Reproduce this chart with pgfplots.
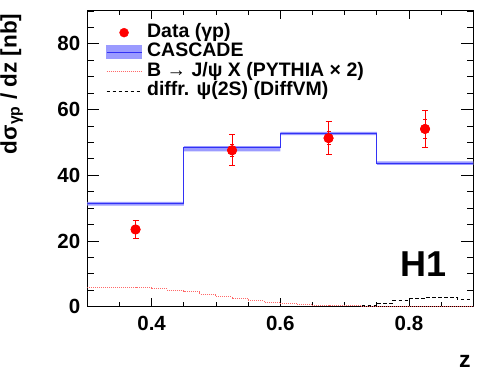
\documentclass[border=0pt]{standalone}
\usepackage{fontspec}
\setmainfont{Liberation Sans}
\usepackage{pgfplots}
\pgfplotsset{compat=1.18}
\definecolor{cline}{RGB}{50,50,245}
\definecolor{cband}{RGB}{155,155,255}
\definecolor{pyred}{RGB}{255,105,105}
\begin{document}
\begin{tikzpicture}
\useasboundingbox (-87.3pt,-64.3pt) rectangle (397.7pt,306.7pt);
\begin{axis}[
  at={(0pt,0pt)}, anchor=south west,
  scale only axis, width=386pt, height=295.7pt,
  xmin=0.3, xmax=0.9, ymin=0, ymax=90,
  xtick={0.4,0.6,0.8}, ytick={0,20,40,60,80},
  minor xtick={0.3,0.35,0.4,0.45,0.5,0.55,0.6,0.65,0.7,0.75,0.8,0.85,0.9},
  minor ytick={0,5,...,90},
  xticklabels={0.4,0.6,0.8},
  axis line style={line width=1pt},
  tick style={black, line width=0.9pt},
  major tick length=12pt, minor tick length=6.5pt,
  xtick style={/pgfplots/major tick length=8.5pt, /pgfplots/minor tick length=4.5pt},
  /pgf/number format/assume math mode=true,
  ticklabel style={font=\fontsize{20.5}{20.5}\selectfont\bfseries},
  xticklabel style={yshift=-6pt},
  yticklabel style={xshift=-3.5pt},
  xlabel={z},
  xlabel style={at={(axis description cs:0.978,-0.185)}, anchor=center, font=\fontsize{23}{23}\selectfont\bfseries},
  ylabel={dσ\textsubscript{γp} / dz [nb]},
  ylabel style={at={(axis description cs:-0.196,1.003)}, anchor=east, font=\fontsize{22.5}{22.5}\selectfont\bfseries},
  legend style={at={(axis description cs:0.048,0.957)}, anchor=north west, draw=none, fill=none,
    font=\fontsize{19.5}{19.5}\selectfont\bfseries, row sep=2pt, column sep=5pt, inner sep=0pt,
    nodes={inner sep=0pt, text height=13.5pt, text depth=4pt}},
  legend cell align=left,
]
% CASCADE uncertainty band
\addplot[fill=cband, draw=none, forget plot] coordinates {
  (0.3,31.9) (0.45,31.9) (0.45,48.9) (0.6,48.9) (0.6,53.2) (0.75,53.2) (0.75,44.2) (0.9,44.2)
  (0.9,43.2) (0.75,43.2) (0.75,52.2) (0.6,52.2) (0.6,47.3) (0.45,47.3) (0.45,30.8) (0.3,30.8)} -- cycle;
% CASCADE central
\addplot[const plot, cline, line width=1pt, forget plot] coordinates {
  (0.3,31.3) (0.45,48.4) (0.6,52.7) (0.75,43.7) (0.9,43.7)};
% PYTHIA x2
\addplot[const plot, pyred, dash pattern=on 1pt off 1pt, line width=1pt, forget plot] coordinates {
  (0.3,5.7) (0.325,5.7) (0.35,5.7) (0.375,5.7) (0.4,5.4) (0.425,4.9) (0.45,4.5) (0.475,3.7)
  (0.5,3.0) (0.525,2.6) (0.55,1.8) (0.575,1.2) (0.6,1.0) (0.625,0.7) (0.65,0.5) (0.675,0.4)
  (0.7,0.3) (0.725,0.2) (0.75,0.1) (0.775,0.1) (0.8,0.1) (0.825,0.1) (0.85,0.1) (0.875,0.1) (0.9,0.1)};
% DiffVM
\addplot[const plot, black, dash pattern=on 3.5pt off 2.5pt, line width=1.1pt, forget plot] coordinates {
  (0.7,0.1) (0.725,0.4) (0.75,1.1) (0.775,1.9) (0.8,2.4) (0.825,2.7) (0.85,2.7) (0.875,2.3) (0.9,2.3)};
% Data: total errors
\addplot[red, only marks, mark=*, mark size=4.5pt, line width=0.9pt, forget plot,
  error bars/.cd, y dir=both, y explicit,
  error mark options={rotate=90, mark size=3pt, red, line width=0.9pt}] coordinates {
  (0.375,23.5) +- (0,2.6)
  (0.525,47.6) +- (0,4.7)
  (0.675,51.3) +- (0,5.0)
  (0.825,54.1) +- (0,5.6)};
% Data: statistical errors
\addplot[red, only marks, mark=*, mark size=4.5pt, line width=0.9pt, forget plot,
  error bars/.cd, y dir=both, y explicit,
  error mark options={rotate=90, mark size=2pt, red, line width=0.9pt}] coordinates {
  (0.375,23.5) +- (0,1.0)
  (0.525,47.6) +- (0,1.8)
  (0.675,51.3) +- (0,2.0)
  (0.825,54.1) +- (0,2.9)};
\addlegendimage{legend image code/.code={\fill[red] (17.5pt,0pt) circle (4.5pt);}}
\addlegendentry{Data (γp)}
\addlegendimage{legend image code/.code={\fill[cband] (0pt,-6.5pt) rectangle (35pt,6.5pt); \draw[cline, line width=1pt] (0pt,0pt) -- (35pt,0pt);}}
\addlegendentry{CASCADE}
\addlegendimage{legend image code/.code={\draw[pyred, dash pattern=on 1pt off 1pt, line width=1pt] (0pt,0pt) -- (35pt,0pt);}}
\addlegendentry{B → J/ψ X (PYTHIA × 2)}
\addlegendimage{legend image code/.code={\draw[black, dash pattern=on 3.5pt off 2.5pt, line width=1.1pt] (0pt,0pt) -- (35pt,0pt);}}
\addlegendentry{diffr. ψ(2S) (DiffVM)}
\node[font=\fontsize{36}{36}\selectfont\bfseries, inner sep=0pt] at (axis cs:0.823,13) {H1};
\end{axis}
\end{tikzpicture}
\end{document}
